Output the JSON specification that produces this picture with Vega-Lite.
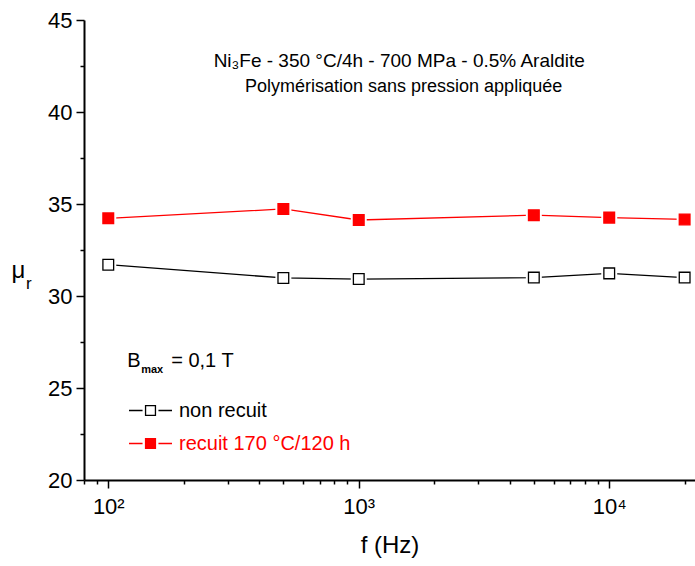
{
  "$schema": "https://vega.github.io/schema/vega-lite/v6.json",
  "width": 611,
  "height": 460,
  "autosize": "none",
  "padding": {"left": 84, "top": 20, "right": 0, "bottom": 86},
  "background": "white",
  "config": {
    "view": {"stroke": null},
    "font": "Liberation Sans",
    "axis": {"grid": false, "domainColor": "black", "tickColor": "black", "labelColor": "black", "titleColor": "black", "labelFont": "Liberation Sans", "titleFont": "Liberation Sans", "titleFontWeight": "normal"}
  },
  "datasets": {
    "mu": [
      {"f": 100, "mu": 31.70, "series": "non recuit"},
      {"f": 500, "mu": 30.98, "series": "non recuit"},
      {"f": 1000, "mu": 30.92, "series": "non recuit"},
      {"f": 5000, "mu": 31.00, "series": "non recuit"},
      {"f": 10000, "mu": 31.23, "series": "non recuit"},
      {"f": 20000, "mu": 31.00, "series": "non recuit"},
      {"f": 100, "mu": 34.22, "series": "recuit 170 °C/120 h"},
      {"f": 500, "mu": 34.73, "series": "recuit 170 °C/120 h"},
      {"f": 1000, "mu": 34.13, "series": "recuit 170 °C/120 h"},
      {"f": 5000, "mu": 34.39, "series": "recuit 170 °C/120 h"},
      {"f": 10000, "mu": 34.26, "series": "recuit 170 °C/120 h"},
      {"f": 20000, "mu": 34.16, "series": "recuit 170 °C/120 h"}
    ],
    "notes": [
      {"label": "Ni₃Fe - 350 °C/4h - 700 MPa - 0.5% Araldite"}
    ]
  },
  "layer": [
    {
      "data": {"name": "mu"},
      "mark": {"type": "line", "strokeWidth": 1.3},
      "encoding": {
        "x": {
          "field": "f", "type": "quantitative",
          "scale": {"type": "log", "domain": [80, 22000], "nice": false},
          "axis": {
            "title": "f (Hz)", "titleFontSize": 24, "titlePadding": 16,
            "values": [80, 90, 100, 200, 300, 400, 500, 600, 700, 800, 900, 1000, 2000, 3000, 4000, 5000, 6000, 7000, 8000, 9000, 10000, 20000],
            "labelExpr": "datum.value == 100 ? '10²' : datum.value == 1000 ? '10³' : datum.value == 10000 ? '10⁴' : ''",
            "labelFontSize": 22, "labelPadding": 8, "labelFlush": false, "labelOverlap": false,
            "domainWidth": 2, "tickWidth": 1.5,
            "tickSize": {"condition": {"test": "datum.value == 100 || datum.value == 1000 || datum.value == 10000", "value": 8}, "value": 4}
          }
        },
        "y": {
          "field": "mu", "type": "quantitative",
          "scale": {"domain": [20, 45], "nice": false, "zero": false},
          "axis": {
            "title": "μ", "titleAngle": 0, "titleFontSize": 24, "titleAlign": "left", "titleBaseline": "alphabetic", "titleX": -73, "titleY": 257,
            "values": [20, 22.5, 25, 27.5, 30, 32.5, 35, 37.5, 40, 42.5, 45],
            "labelExpr": "datum.value % 5 == 0 ? '' + datum.value : ''",
            "labelFontSize": 22, "labelPadding": 4, "labelFlush": false, "labelOverlap": false,
            "domainWidth": 2, "tickWidth": 1.5,
            "tickSize": {"condition": {"test": "datum.value % 5 == 0", "value": 8}, "value": 4}
          }
        },
        "stroke": {"field": "series", "type": "nominal", "scale": {"domain": ["non recuit", "recuit 170 °C/120 h"], "range": ["black", "red"]},
          "legend": {"title": null, "orient": "none", "legendX": 44, "legendY": 368, "padding": 0,
            "symbolType": "M-1,0H-0.37M-0.23,-0.23H0.23V0.23H-0.23ZM0.37,0H1", "symbolSize": 1849, "symbolStrokeWidth": 1.3,
            "labelFontSize": 20, "labelFont": "Liberation Sans", "labelOffset": 6, "rowPadding": -21, "labelLimit": 400,
            "encode": {
              "symbols": {"update": {"fill": {"signal": "datum.value == 'non recuit' ? 'white' : 'red'"}, "stroke": {"signal": "datum.value == 'non recuit' ? 'black' : 'red'"}, "opacity": {"value": 1}}},
              "labels": {"update": {"fill": {"signal": "datum.value == 'non recuit' ? 'black' : 'red'"}}}
            }
          }
        }
      }
    },
    {
      "data": {"name": "mu"},
      "mark": {"type": "point", "shape": "square", "filled": true, "size": 256, "color": "white", "opacity": 1},
      "encoding": {
        "x": {"field": "f", "type": "quantitative"},
        "y": {"field": "mu", "type": "quantitative"}
      }
    },
    {
      "data": {"name": "mu"},
      "mark": {"type": "point", "shape": "square", "filled": true, "size": 115, "strokeWidth": 1.3, "opacity": 1},
      "encoding": {
        "x": {"field": "f", "type": "quantitative"},
        "y": {"field": "mu", "type": "quantitative"},
        "fill": {"field": "series", "type": "nominal", "scale": {"domain": ["non recuit", "recuit 170 °C/120 h"], "range": ["white", "red"]}, "legend": null},
        "stroke": {"field": "series", "type": "nominal"}
      }
    },
    {
      "data": {"name": "notes"},
      "mark": {"type": "text", "fontSize": 19, "align": "center", "baseline": "alphabetic", "color": "black"},
      "encoding": {"x": {"datum": 1451, "type": "quantitative"}, "y": {"datum": 42.45, "type": "quantitative"}, "text": {"field": "label"}}
    },
    {
      "data": {"name": "notes"},
      "mark": {"type": "text", "fontSize": 18, "align": "center", "baseline": "alphabetic", "color": "black"},
      "encoding": {"x": {"datum": 1510, "type": "quantitative"}, "y": {"datum": 41.09, "type": "quantitative"}, "text": {"value": "Polymérisation sans pression appliquée"}}
    },
    {
      "data": {"name": "notes"},
      "mark": {"type": "text", "fontSize": 20, "align": "left", "baseline": "alphabetic", "color": "black"},
      "encoding": {"x": {"datum": 119, "type": "quantitative"}, "y": {"datum": 26.14, "type": "quantitative"}, "text": {"value": "B"}}
    },
    {
      "data": {"name": "notes"},
      "mark": {"type": "text", "fontSize": 11, "fontWeight": "bold", "align": "left", "baseline": "alphabetic", "color": "black", "dx": 14, "dy": 6},
      "encoding": {"x": {"datum": 119, "type": "quantitative"}, "y": {"datum": 26.14, "type": "quantitative"}, "text": {"value": "max"}}
    },
    {
      "data": {"name": "notes"},
      "mark": {"type": "text", "fontSize": 20, "align": "left", "baseline": "alphabetic", "color": "black", "dx": 44},
      "encoding": {"x": {"datum": 119, "type": "quantitative"}, "y": {"datum": 26.14, "type": "quantitative"}, "text": {"value": "= 0,1 T"}}
    },
    {
      "data": {"name": "notes"},
      "mark": {"type": "text", "fontSize": 17, "align": "left", "baseline": "alphabetic", "color": "black", "dx": -58, "dy": 6},
      "encoding": {"x": {"datum": 80, "type": "quantitative"}, "y": {"datum": 30.7, "type": "quantitative"}, "text": {"value": "r"}}
    }
  ]
}
